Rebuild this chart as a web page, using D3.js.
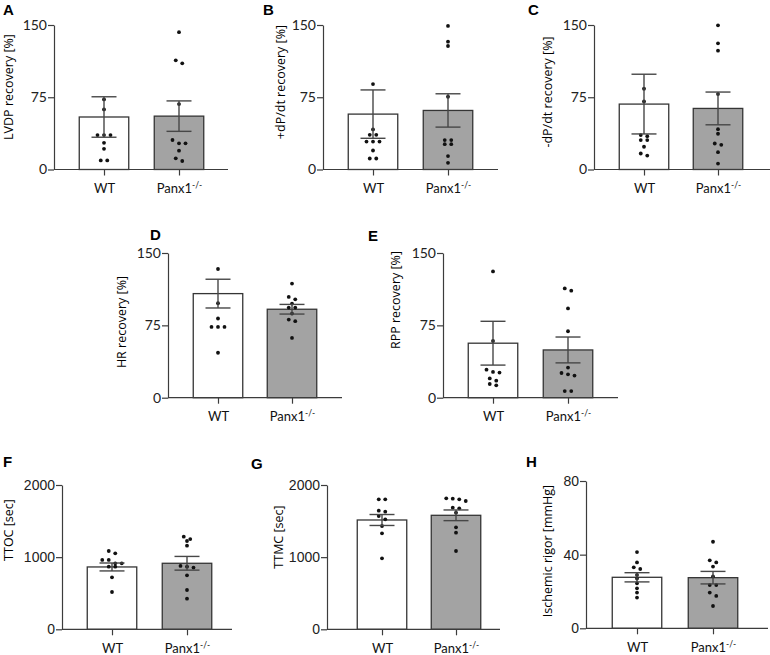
<!DOCTYPE html>
<html>
<head>
<meta charset="utf-8">
<script src="https://cdn.jsdelivr.net/npm/d3@7"></script>
<style>
  html, body { margin: 0; padding: 0; background: #fff; }
  svg { display: block; }
</style>
</head>
<body>
<svg id="chart" width="770" height="655"></svg>
<script>
// ---------------- DATA ----------------
const categories = ["WT", "Panx1"];
const panelLetters = ["A", "B", "C", "D", "E", "F", "G", "H"];
const yLabels = ["LVDP recovery [%]", "+dP/dt recovery [%]", "-dP/dt recovery [%]",
                 "HR recovery [%]", "RPP recovery [%]", "TTOC [sec]", "TTMC [sec]",
                 "Ischemic rigor [mmHg]"];
const yTickSets = [[0, 75, 150], [0, 75, 150], [0, 75, 150], [0, 75, 150], [0, 75, 150],
                   [0, 1000, 2000], [0, 1000, 2000], [0, 40, 80]];
const wtMeans = [54.5, 57.5, 67.9, 107.9, 56.5, 864, 1515, 27.7];
const koMeans = [55.4, 61.3, 63.4, 91.7, 49.5, 915, 1580, 27.5];
const wtSEM   = [21.0, 25.1, 31.0, 14.9, 22.7, 55, 76, 2.5];
const koSEM   = [15.8, 17.3, 17.0, 5.0, 13.4, 95, 74, 3.4];

const wtDotsA = [72.7, 62.4, 35.7, 35.7, 35.7, 27.7, 21.5, 9.4, 9.4];
const koDotsA = [142.6, 113.3, 110.2, 67.9, 30.6, 27.2, 27.2, 19.5, 11.6, 8.8];
const wtDotsB = [88.7, 41.6, 36.0, 36.0, 29.0, 29.0, 29.0, 19.7, 11.4, 11.4];
const koDotsB = [149.0, 132.7, 128.2, 75.5, 30.5, 30.5, 26.3, 26.3, 13.9, 6.9];
const wtDotsC = [83.8, 70.7, 35.7, 34.6, 30.5, 30.5, 23.6, 16.6, 14.5];
const koDotsC = [149.7, 131.0, 123.3, 78.3, 41.9, 37.1, 27.0, 25.6, 18.0, 6.2];
const wtDotsD = [133.4, 97.9, 82.1, 73.4, 73.4, 73.4, 46.6];
const koDotsD = [118.3, 104.5, 102.0, 97.6, 93.4, 93.4, 87.2, 81.0, 79.3, 62.0];
const wtDotsE = [130.9, 58.9, 29.0, 26.7, 26.0, 20.0, 17.7, 14.2, 12.8];
const koDotsE = [113.3, 110.9, 92.5, 68.9, 31.2, 25.6, 24.2, 22.9, 6.9, 6.9];
const wtDotsF = [1085, 1053, 961, 961, 915, 915, 868, 868, 720, 517];
const koDotsF = [1284, 1250, 1224, 1159, 878, 868, 855, 748, 545, 425];
const wtDotsG = [1801, 1801, 1644, 1630, 1570, 1524, 1432, 1330, 984];
const koDotsG = [1815, 1810, 1801, 1778, 1686, 1677, 1617, 1413, 1339, 1085];
const wtDotsH = [41.4, 35.8, 33.1, 32.2, 29.0, 27.0, 24.4, 21.7, 19.4, 16.7];
const koDotsH = [47.0, 36.9, 35.8, 33.5, 28.2, 23.5, 23.5, 19.4, 17.6, 12.1];

const wtDots = [wtDotsA, wtDotsB, wtDotsC, wtDotsD, wtDotsE, wtDotsF, wtDotsG, wtDotsH];
const koDots = [koDotsA, koDotsB, koDotsC, koDotsD, koDotsE, koDotsF, koDotsG, koDotsH];

// ---------------- LAYOUT ----------------
const layout = [
  {ax: 54,  yTop: 25,  yBot: 169.5, c1: 104, c2: 179, xEnd: 228, lx: 3,   ly: 15,  labX: 8,   labY: 87,  tickFont: "Lato"},
  {ax: 323, yTop: 25,  yBot: 169.5, c1: 373, c2: 448, xEnd: 498, lx: 263, ly: 15,  labX: 280, labY: 82,  tickFont: "Lato"},
  {ax: 594, yTop: 25,  yBot: 169.5, c1: 644, c2: 718, xEnd: 770, lx: 528, ly: 15,  labX: 547, labY: 92,  tickFont: "Lato"},
  {ax: 168, yTop: 253, yBot: 397.7, c1: 218, c2: 292, xEnd: 342, lx: 150, ly: 240, labX: 121, labY: 322, tickFont: "Lato"},
  {ax: 443, yTop: 253, yBot: 397.7, c1: 493, c2: 568, xEnd: 618, lx: 368, ly: 241, labX: 395, labY: 300, tickFont: "Lato"},
  {ax: 62,  yTop: 485, yBot: 629.3, c1: 112, c2: 187, xEnd: 232, lx: 3,   ly: 467, labX: 8,   labY: 530, tickFont: "Liberation Sans"},
  {ax: 327, yTop: 485, yBot: 629.3, c1: 382, c2: 456, xEnd: 500, lx: 251, ly: 469, labX: 278, labY: 537, tickFont: "Liberation Sans"},
  {ax: 586, yTop: 481, yBot: 628.3, c1: 637, c2: 713, xEnd: 768, lx: 526, ly: 467, labX: 547, labY: 551, tickFont: "Liberation Sans"}
];

const AXIS = "#3c3c3c";
const svg = d3.select("#chart");

function swarm(values, y, cx) {
  const pts = values.map(v => ({v, py: y(v)})).sort((a, b) => a.py - b.py);
  const rows = [];
  pts.forEach(p => {
    const last = rows[rows.length - 1];
    if (last && Math.abs(p.py - last[0].py) < 3.5) last.push(p); else rows.push([p]);
  });
  const out = [];
  rows.forEach(r => r.forEach((p, i) => out.push({x: cx + (i - (r.length - 1) / 2) * 6.5, y: p.py})));
  return out;
}

layout.forEach((L, i) => {
  const g = svg.append("g");
  const ticks = yTickSets[i];
  const y = d3.scaleLinear().domain([0, ticks[ticks.length - 1]]).range([L.yBot, L.yTop]);
  const x = d3.scalePoint().domain(categories).range([L.c1, L.c2]);
  const barW = 49.5;

  // bars
  const means = [wtMeans[i], koMeans[i]];
  const sems = [wtSEM[i], koSEM[i]];
  g.selectAll("rect.bar").data(categories).join("rect")
    .attr("x", c => x(c) - barW / 2)
    .attr("y", (c, j) => y(means[j]))
    .attr("width", barW)
    .attr("height", (c, j) => L.yBot - y(means[j]))
    .attr("fill", (c, j) => j === 0 ? "#ffffff" : "#a3a3a3")
    .attr("stroke", "#353535")
    .attr("stroke-width", 1.3);

  // dots
  [wtDots[i], koDots[i]].forEach((vals, j) => {
    g.selectAll(null).data(swarm(vals, y, x(categories[j]))).join("circle")
      .attr("cx", d => d.x).attr("cy", d => d.y).attr("r", 1.9).attr("fill", "#111");
  });

  // error bars
  categories.forEach((c, j) => {
    const cx = x(c), hi = y(means[j] + sems[j]), lo = y(means[j] - sems[j]);
    g.append("line").attr("x1", cx).attr("x2", cx).attr("y1", hi).attr("y2", lo)
      .attr("stroke", "#474747").attr("stroke-width", 1.4);
    [hi, lo].forEach(yy => g.append("line").attr("x1", cx - 12.5).attr("x2", cx + 12.5)
      .attr("y1", yy).attr("y2", yy).attr("stroke", "#474747").attr("stroke-width", 1.4));
  });

  // y axis
  const yAxis = g.append("g").attr("transform", `translate(${L.ax},0)`)
    .call(d3.axisLeft(y).tickValues(ticks).tickSize(6).tickSizeOuter(0).tickPadding(1).tickFormat(d3.format("d")));
  yAxis.select(".domain").attr("stroke", AXIS).attr("stroke-width", 1.2);
  yAxis.selectAll(".tick line").attr("stroke", AXIS).attr("stroke-width", 1.2);
  yAxis.selectAll(".tick text").attr("font-family", L.tickFont + ", sans-serif").attr("font-size", 14)
    .attr("fill", "#222");

  // x axis
  g.append("line").attr("x1", L.ax).attr("x2", L.xEnd).attr("y1", L.yBot).attr("y2", L.yBot)
    .attr("stroke", AXIS).attr("stroke-width", 1.2);
  const xAxis = g.append("g").attr("transform", `translate(0,${L.yBot})`)
    .call(d3.axisBottom(x).tickSize(6).tickSizeOuter(0).tickPadding(8));
  xAxis.select(".domain").remove();
  xAxis.selectAll(".tick line").attr("stroke", AXIS).attr("stroke-width", 1.2);
  xAxis.selectAll(".tick text").attr("font-family", "Lato, sans-serif").attr("font-size", 13).attr("fill", "#111")
    .each(function (d) {
      if (d === "Panx1") {
        const t = d3.select(this);
        t.text(null);
        t.append("tspan").text("Panx1");
        t.append("tspan").attr("font-size", 8.5).attr("dy", "-0.55em").text("-/-");
      }
    });

  // y label
  g.append("text").attr("transform", `translate(${L.labX},${L.labY}) rotate(-90)`)
    .attr("text-anchor", "middle").attr("dominant-baseline", "central")
    .attr("font-family", "'Open Sans', 'Noto Sans', sans-serif").attr("font-size", 12.5).attr("fill", "#000")
    .text(yLabels[i]);

  // panel letter
  g.append("text").attr("x", L.lx).attr("y", L.ly)
    .attr("font-family", "'Liberation Sans', Arial, sans-serif").attr("font-weight", "bold").attr("font-size", 15)
    .attr("fill", "#000").text(panelLetters[i]);
});
</script>
</body>
</html>
